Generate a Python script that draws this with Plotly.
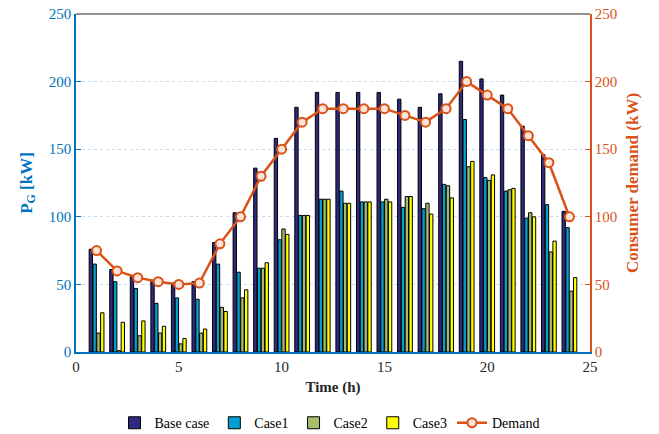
import plotly.graph_objects as go

# Hourly generation for each operating case (kW) and consumer demand (kW)
hours = list(range(1, 25))
base_case = [76, 61, 56, 53, 51, 52, 81, 103, 136, 158, 181, 192,
             192, 192, 192, 187, 181, 191, 215, 202, 190, 167, 146, 104]
case1 = [65, 52, 47, 36, 40, 39, 65, 59, 62, 83, 101, 113,
         119, 111, 111, 107, 106, 124, 172, 129, 119, 99, 109, 92]
case2 = [14, 1, 12, 14, 6, 14, 33, 40, 62, 91, 101, 113,
         110, 111, 113, 115, 110, 123, 137, 127, 120, 103, 74, 45]
case3 = [29, 22, 23, 19, 10, 17, 30, 46, 66, 87, 101, 113,
         110, 111, 111, 115, 102, 114, 141, 131, 121, 100, 82, 55]
demand = [75, 60, 55, 52, 50, 51, 80, 100, 130, 150, 170, 180,
          180, 180, 180, 175, 170, 180, 200, 190, 180, 160, 140, 100]

series = [
    ("Base case", base_case, "#2d2a7f"),
    ("Case1", case1, "#049fcf"),
    ("Case2", case2, "#a4be6b"),
    ("Case3", case3, "#ffff00"),
]

BLUE = "#0072BD"
ORANGE = "#D95319"
FONT = "Times New Roman, Liberation Serif, serif"

fig = go.Figure()
for name, vals, col in series:
    fig.add_trace(go.Bar(
        x=hours, y=vals, name=name,
        marker=dict(color=col, line=dict(color="#000000", width=1)),
    ))

fig.add_trace(go.Scatter(
    x=hours, y=demand, name="Demand", yaxis="y2",
    mode="lines+markers",
    line=dict(color=ORANGE, width=2.5),
    marker=dict(symbol="circle", size=9, color="#fbe3d8",
                line=dict(color=ORANGE, width=2)),
))

fig.update_layout(
    width=659, height=434,
    margin=dict(l=76, r=69, t=14, b=82, autoexpand=False),
    paper_bgcolor="white", plot_bgcolor="white",
    barmode="group", bargap=0.26, bargroupgap=0.12,
    font=dict(family=FONT, size=13, color="#262626"),
    showlegend=True,
    legend=dict(orientation="h", x=0.5, xanchor="center", xref="container",
                y=0.025, yanchor="middle", yref="container",
                font=dict(family=FONT, size=14, color="#000000"),
                tracegroupgap=0, bgcolor="rgba(0,0,0,0)"),
    xaxis=dict(
        range=[0, 25], dtick=5, tick0=0,
        showgrid=False, zeroline=False,
        showline=True, linecolor=BLUE, linewidth=1.5,
        ticks="inside", ticklen=4, tickcolor="#262626",
        tickfont=dict(family=FONT, size=15, color="#262626"),
        title=dict(text="<b>Time (h)</b>", standoff=8,
                   font=dict(family=FONT, size=15, color="#262626")),
    ),
    yaxis=dict(
        range=[0, 250], dtick=50,
        showgrid=True, gridcolor="#c6dbee", griddash="dot", gridwidth=1,
        zeroline=False,
        showline=True, linecolor=BLUE, linewidth=1.5,
        ticks="inside", ticklen=5, tickcolor=BLUE,
        tickfont=dict(family=FONT, size=15, color=BLUE),
        title=dict(text="<b>P<sub>G</sub> [kW]</b>", standoff=12,
                   font=dict(family=FONT, size=17, color=BLUE)),
    ),
    yaxis2=dict(
        range=[0, 250], dtick=50, overlaying="y", side="right",
        showgrid=False, zeroline=False,
        showline=True, linecolor=ORANGE, linewidth=1.5,
        ticks="inside", ticklen=5, tickcolor=ORANGE,
        tickfont=dict(family=FONT, size=15, color=ORANGE),
        title=dict(text="<b>Consumer demand (kW)</b>", standoff=10,
                   font=dict(family=FONT, size=17, color=ORANGE)),
    ),
    shapes=[dict(type="line", xref="paper", yref="paper",
                 x0=0, x1=1, y0=1, y1=1,
                 line=dict(color="#262626", width=1.2))],
)

fig.write_html("out.html")
